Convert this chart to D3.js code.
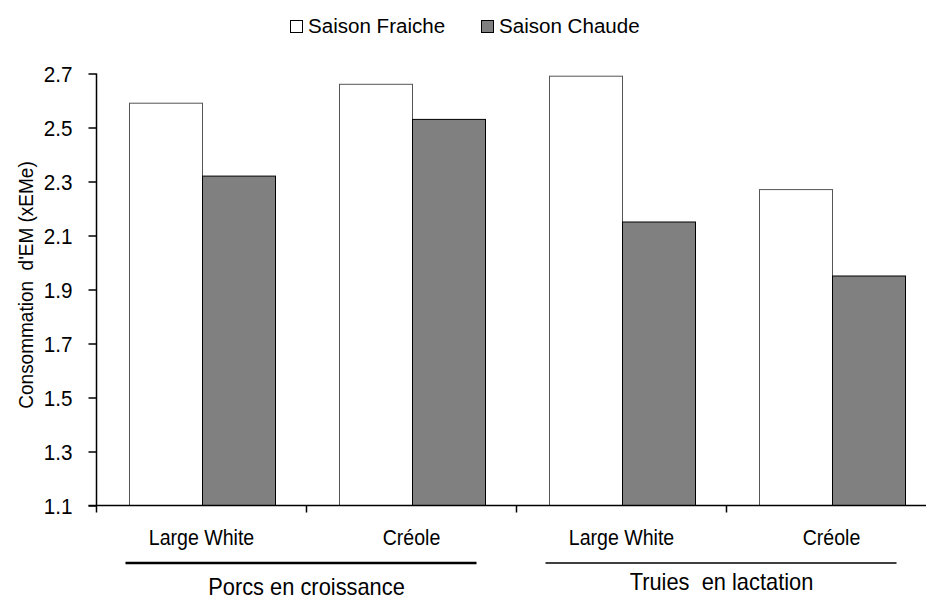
<!DOCTYPE html>
<html>
<head>
<meta charset="utf-8">
<script src="https://cdn.jsdelivr.net/npm/d3@7/dist/d3.min.js"></script>
<style>
  html, body { margin: 0; padding: 0; background: #fff; }
  svg text { font-family: "Liberation Sans", Arial, sans-serif; fill: #000; white-space: pre; }
</style>
</head>
<body>
<svg id="chart" width="926" height="599"></svg>
<script>
// ---- data ----
const categories = ["Large White|Porcs", "Créole|Porcs", "Large White|Truies", "Créole|Truies"];
const categoryLabels = ["Large White", "Créole", "Large White", "Créole"];
const seriesNames = ["Saison Fraiche", "Saison Chaude"];
const saisonFraiche = [2.59, 2.66, 2.69, 2.27];
const saisonChaude = [2.32, 2.53, 2.15, 1.95];
const groupNames = ["Porcs en croissance", "Truies  en lactation"];
const yTicks = [1.1, 1.3, 1.5, 1.7, 1.9, 2.1, 2.3, 2.5, 2.7];
const yTitle = "Consommation  d'EM (xEMe)";

const seriesValues = [saisonFraiche, saisonChaude];
const seriesFill = ["#ffffff", "#808080"];
const seriesStroke = ["#555555", "#000000"];

const svg = d3.select("#chart");

// condensed text helper (emulates a narrow font)
function label(parent, x, y, str, size, sx, anchor, rot) {
  return parent.append("text")
    .attr("transform", `translate(${x},${y})` + (rot ? ` rotate(${rot})` : "") + ` scale(${sx},1)`)
    .attr("text-anchor", anchor || "middle")
    .attr("font-size", size)
    .text(str);
}

const x0 = 96.5, x1 = 936.5, yTop = 73.5, yBot = 505.5;
const x = d3.scaleBand().domain(categories).range([x0, x1]).paddingInner(0).paddingOuter(0);
const xs = d3.scaleBand().domain(seriesNames).range([32, x.bandwidth() - 32]).padding(0);
const y = d3.scaleLinear().domain([1.1, 2.7]).range([yBot, yTop]);

// bars
seriesNames.forEach((s, si) => {
  svg.append("g").selectAll("rect").data(categories).join("rect")
    .attr("x", d => Math.round(x(d) + xs(s)) + 0.5)
    .attr("y", (d, i) => y(seriesValues[si][i]))
    .attr("width", xs.bandwidth())
    .attr("height", (d, i) => yBot - y(seriesValues[si][i]))
    .attr("fill", seriesFill[si])
    .attr("stroke", seriesStroke[si])
    .attr("stroke-width", 1);
});

// y axis
const yAxis = d3.axisLeft(y).tickValues(yTicks).tickFormat(d3.format(".1f")).tickSize(8).tickPadding(16);
const gy = svg.append("g").attr("transform", `translate(${x0},0)`).call(yAxis);
gy.select(".domain").attr("d", `M0,${yTop}V${yBot + 7}`).attr("stroke", "#000").attr("stroke-width", 1.5);
gy.selectAll(".tick line").attr("stroke", "#000").attr("stroke-width", 1.5);
gy.selectAll(".tick text")
  .attr("font-size", 22).attr("font-family", null)
  .attr("x", 0).attr("dy", "0.36em")
  .attr("transform", "translate(-24,0) scale(0.94,1)");

// x axis
const boundaries = categories.slice(1).map(c => x(c));
const gx = svg.append("g");
gx.append("line").attr("x1", x0 - 8).attr("x2", 926).attr("y1", yBot).attr("y2", yBot)
  .attr("stroke", "#000").attr("stroke-width", 1.5);
gx.selectAll("line.tk").data(boundaries).join("line").attr("class", "tk")
  .attr("x1", d => d).attr("x2", d => d).attr("y1", yBot).attr("y2", yBot + 7)
  .attr("stroke", "#000").attr("stroke-width", 1.5);
categories.forEach((c, i) => {
  label(gx, x(c) + x.bandwidth() / 2, 545, categoryLabels[i], 22, 0.89, "middle");
});

// group brackets
const groupSpans = [
  { name: groupNames[0], from: categories[0], to: categories[1], lineY: 563, textY: 595, sw: 2.5, dx: 0 },
  { name: groupNames[1], from: categories[2], to: categories[3], lineY: 563, textY: 590, sw: 1.5, dx: -5 }
];
groupSpans.forEach(g => {
  const a = x(g.from) + 29, b = x(g.to) + x.bandwidth() - 40;
  svg.append("line").attr("x1", a).attr("x2", b).attr("y1", g.lineY).attr("y2", g.lineY)
    .attr("stroke", "#000").attr("stroke-width", g.sw);
  label(svg, (x(g.from) + x(g.to) + x.bandwidth()) / 2 + g.dx, g.textY, g.name, 23, 0.95, "middle");
});

// y title
label(svg, 33, 285, yTitle, 20, 0.95, "middle", -90);

// legend
const legendItems = [{ x: 290 }, { x: 481 }];
seriesNames.forEach((s, i) => {
  const lx = legendItems[i].x;
  svg.append("rect").attr("x", lx + 0.5).attr("y", 20.5).attr("width", 12).attr("height", 12)
    .attr("fill", seriesFill[i]).attr("stroke", "#000").attr("stroke-width", 1);
  label(svg, lx + 18, 33, s, 21, 0.98, "start");
});
</script>
</body>
</html>
